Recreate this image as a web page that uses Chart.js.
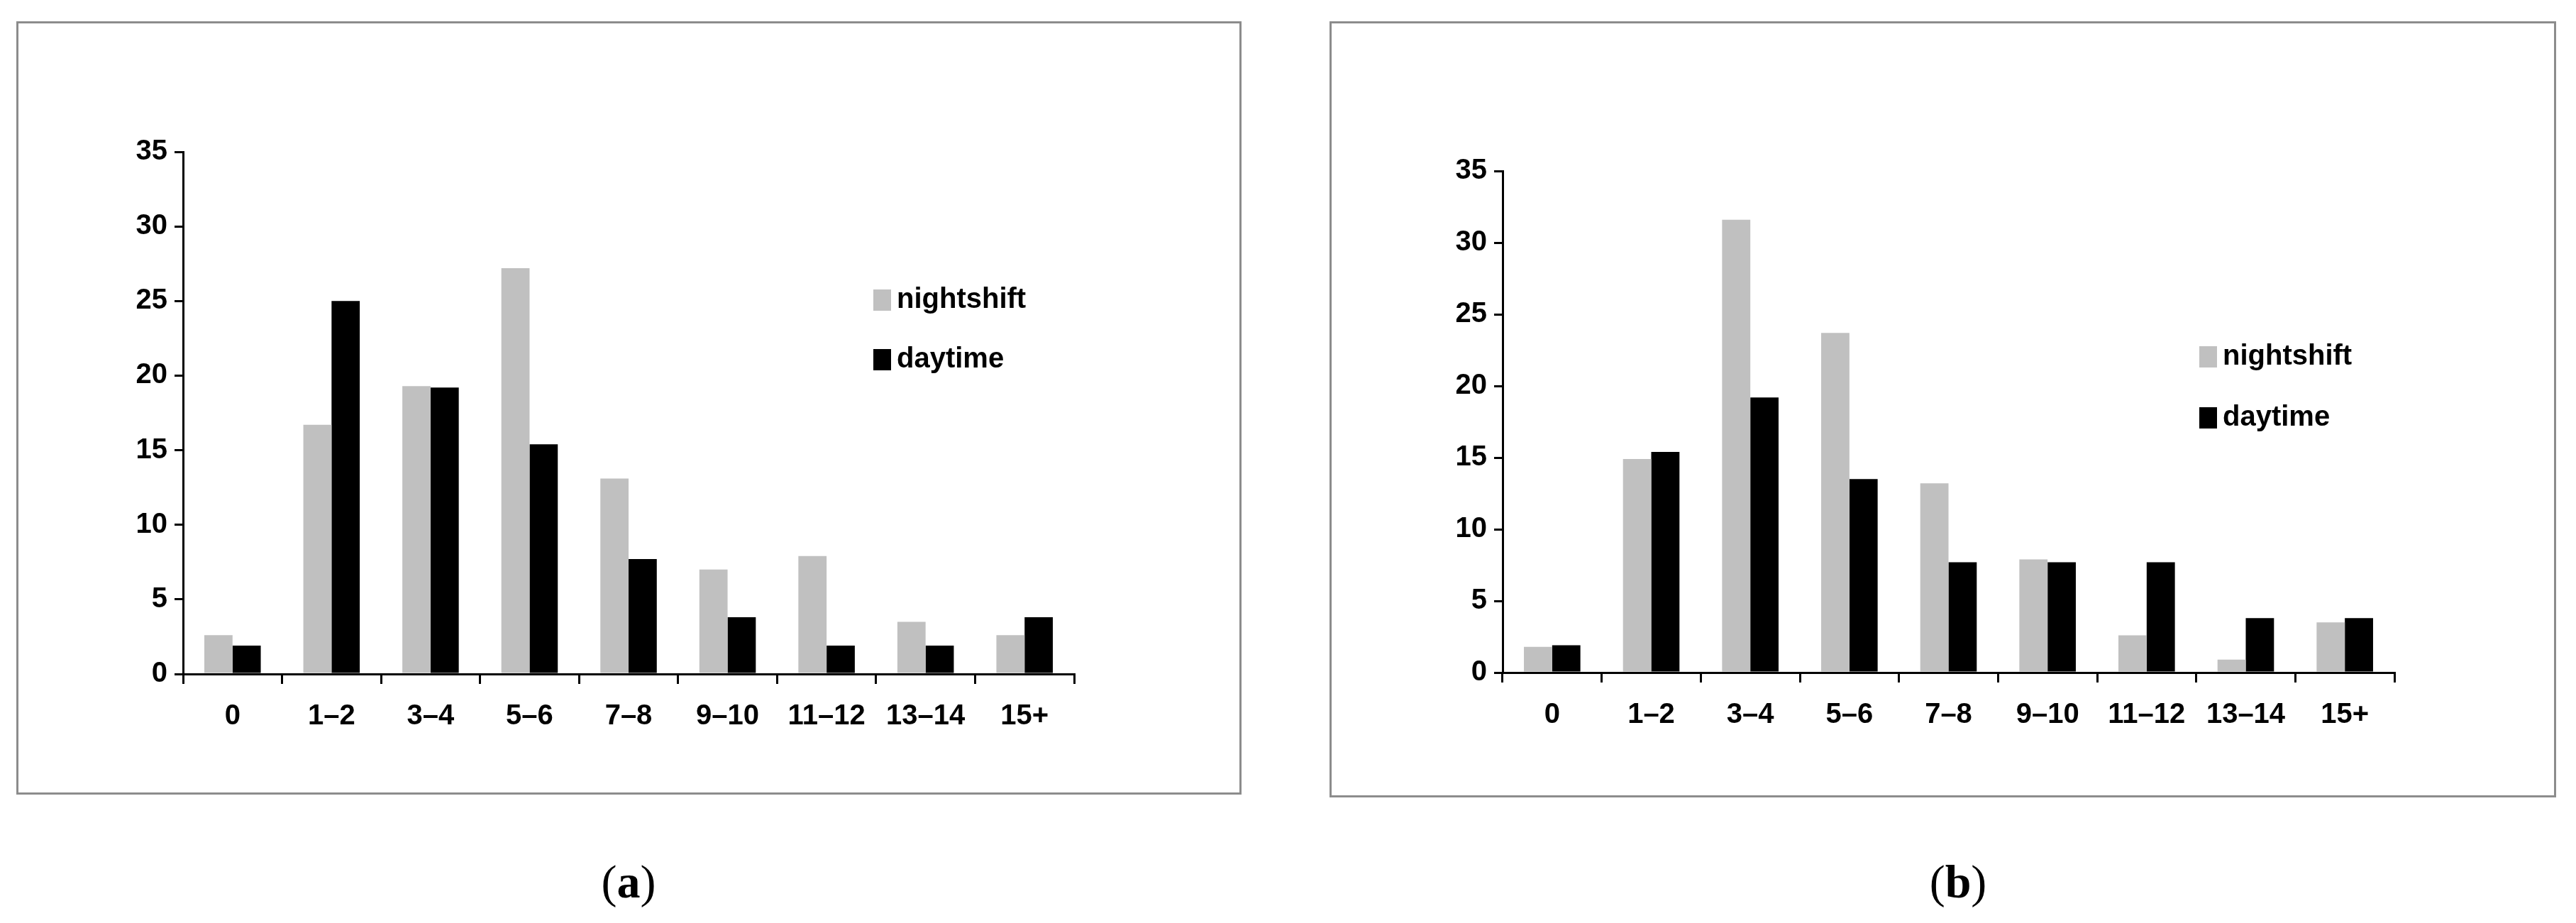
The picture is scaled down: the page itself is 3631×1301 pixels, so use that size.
<!DOCTYPE html>
<html><head><meta charset="utf-8">
<script src="https://cdn.jsdelivr.net/npm/chart.js@4"></script>
<style>
body{margin:0;background:#fff;width:3631px;height:1301px;position:relative;overflow:hidden}
.fr{position:absolute;border:3px solid #8c8c8c;box-sizing:border-box}
.cap{position:absolute;font-family:"Liberation Serif",serif;font-size:66px;transform:translateX(-50%)}
</style></head><body>
<div class="fr" id="fa" style="left:23px;top:30px;width:1727px;height:1090px"><canvas id="ca"></canvas></div>
<div class="fr" id="fb" style="left:1874px;top:30px;width:1729px;height:1094px"><canvas id="cb"></canvas></div>
<div class="cap" style="left:886px;top:1205px">(<b>a</b>)</div>
<div class="cap" style="left:2760px;top:1205px">(<b>b</b>)</div>
<script>
const categories=["0","1\u20132","3\u20134","5\u20136","7\u20138","9\u201310","11\u201312","13\u201314","15+"];
const seriesNames=["nightshift","daytime"];
const nightA=[2.6,16.7,19.3,27.2,13.1,7.0,7.9,3.5,2.6];
const dayA=[1.9,25.0,19.2,15.4,7.7,3.8,1.9,1.9,3.8];
const nightB=[1.8,14.9,31.6,23.7,13.2,7.9,2.6,0.9,3.5];
const dayB=[1.9,15.4,19.2,13.5,7.7,7.7,7.7,3.8,3.8];
const yTicks=[0,5,10,15,20,25,30,35];
const FONT='"Liberation Sans Narrow","Liberation Sans",sans-serif';
function make(id,night,day,pad,yW,xH,leg){
  const legendPlugin={id:'lg',afterDraw(c){
    const ctx=c.ctx;ctx.save();
    c.data.datasets.forEach((d,i)=>{
      const y=leg.y[i];
      ctx.fillStyle=d.backgroundColor;ctx.fillRect(leg.x,y-15,25,30);
      ctx.fillStyle='#000';ctx.font='bold 40px '+FONT;ctx.textBaseline='middle';
      ctx.fillText(d.label,leg.x+33,y);
    });ctx.restore();}};
  new Chart(document.getElementById(id),{type:'bar',
    data:{labels:categories,datasets:[
      {label:seriesNames[0],data:night,backgroundColor:'#c0c0c0'},
      {label:seriesNames[1],data:day,backgroundColor:'#000000'}]},
    options:{responsive:true,maintainAspectRatio:false,animation:false,
      categoryPercentage:0.57,barPercentage:1,
      layout:{padding:{left:0,top:pad.t,right:pad.r,bottom:0}},
      plugins:{legend:{display:false},tooltip:{enabled:false}},
      scales:{
        x:{grid:{offset:true,drawOnChartArea:false,color:'#000',tickLength:14,lineWidth:3},
           border:{color:'#000',width:3},
           ticks:{color:'#000',font:{family:FONT,size:40,weight:'bold'},padding:22,maxRotation:0,autoSkip:false},
           afterFit(s){s.height=xH;}},
        y:{min:0,max:35,grid:{drawOnChartArea:false,color:'#000',tickLength:12,lineWidth:3},
           border:{color:'#000',width:3},
           afterBuildTicks(s){s.ticks=yTicks.map(v=>({value:v}));},
           ticks:{color:'#000',font:{family:FONT,size:40,weight:'bold'},padding:10},
           afterFit(s){s.width=yW;}}}},
    plugins:[legendPlugin]});
}
make('ca',nightA,dayA,{t:181,r:233},232,167,{x:1205,y:[390,474]});
make('cb',nightB,dayB,{t:208,r:225},241,173,{x:1223,y:[470,556]});
</script></body></html>
